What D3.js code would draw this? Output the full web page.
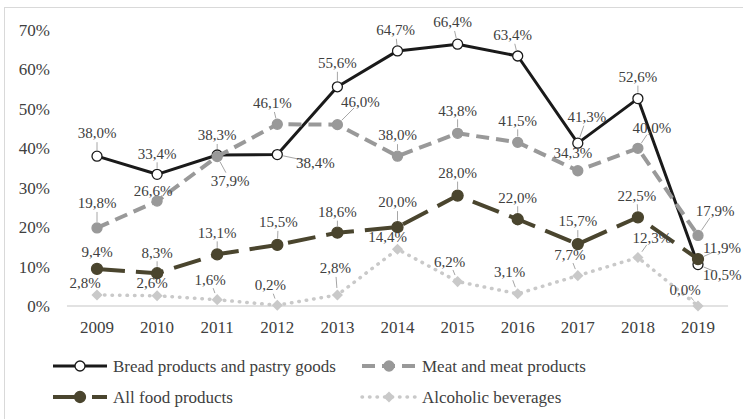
<!DOCTYPE html>
<html>
<head>
<meta charset="utf-8">
<script src="https://cdn.jsdelivr.net/npm/d3@7"></script>
<style>
  body { margin: 0; background: #fff; }
</style>
</head>
<body>
<div id="chart"></div>
<script>
const WIDTH = 743;
const HEIGHT = 419;
const FONT = "'Liberation Serif', 'Times New Roman', serif";

// data
const years = ["2009", "2010", "2011", "2012", "2013", "2014", "2015", "2016", "2017", "2018", "2019"];
const bread = [38.0, 33.4, 38.3, 38.4, 55.6, 64.7, 66.4, 63.4, 41.3, 52.6, 10.5];
const meat = [19.8, 26.6, 37.9, 46.1, 46.0, 38.0, 43.8, 41.5, 34.3, 40.0, 17.9];
const food = [9.4, 8.3, 13.1, 15.5, 18.6, 20.0, 28.0, 22.0, 15.7, 22.5, 11.9];
const alcohol = [2.8, 2.6, 1.6, 0.2, 2.8, 14.4, 6.2, 3.1, 7.7, 12.3, 0.0];
const yTicks = [0, 10, 20, 30, 40, 50, 60, 70];
const seriesNames = ["Bread products and pastry goods", "Meat and meat products", "All food products", "Alcoholic beverages"];

// label offsets (px) from each point, as placed in the original
const breadOff = [[0,-23],[0,-21],[0,-20],[38,8],[0,-24],[-2,-21],[-5,-22],[-5,-21],[9,-26],[0,-22],[24,10]];
const meatOff = [[0,-25],[-4,-10],[13,24],[-5,-21],[23,-23],[0,-21],[0,-23],[0,-22],[-5,-18],[14,-21],[17,-25]];
const foodOff = [[0,-17],[0,-21],[0,-22],[1,-23],[0,-21],[0,-25],[0,-23],[0,-22],[0,-23],[-1,-22],[24,-11]];
const alcOff = [[-12,-12],[-5,-13],[-7,-20],[-7,-20],[-2,-27],[-10,-12],[-8,-20],[-8,-22],[-8,-21],[14,-20],[-13,-16]];

const series = [
    { name: seriesNames[0], values: bread, off: breadOff, color: "#1a1a1a", width: 3, dash: null, marker: "circle", fill: "#fff", stroke: "#1a1a1a", r: 5 },
    { name: seriesNames[1], values: meat, off: meatOff, color: "#999999", width: 4, dash: "13 7", marker: "circle", fill: "#999999", stroke: "#999999", r: 5 },
    { name: seriesNames[2], values: food, off: foodOff, color: "#4a452e", width: 4, dash: "28 11", marker: "circle", fill: "#4a452e", stroke: "#4a452e", r: 5.5 },
    { name: seriesNames[3], values: alcohol, off: alcOff, color: "#c9c9c9", width: 3.5, dash: "0.5 7", marker: "diamond", fill: "#c9c9c9", stroke: "#c9c9c9", r: 6 }
];

const svg = d3.select("#chart")
    .append("svg")
    .attr("width", WIDTH)
    .attr("height", HEIGHT)
    .attr("font-family", FONT);

svg.append("rect")
    .attr("x", 4.5).attr("y", 7.5)
    .attr("width", WIDTH).attr("height", HEIGHT)
    .attr("fill", "none")
    .attr("stroke", "#d9d9d9");

const x = d3.scalePoint()
    .domain(years)
    .range([97, 698]);

const y = d3.scaleLinear()
    .domain([0, 70])
    .range([306, 30]);

// y tick labels
svg.append("g").selectAll("text")
    .data(yTicks)
    .enter().append("text")
    .attr("x", 50)
    .attr("y", d => y(d))
    .attr("dy", "0.35em")
    .attr("text-anchor", "end")
    .attr("font-size", 17)
    .attr("fill", "#404040")
    .text(d => d + "%");

// baseline
svg.append("line")
    .attr("x1", x(years[0]) - x.step() / 2)
    .attr("x2", x(years[years.length - 1]) + x.step() / 2)
    .attr("y1", y(0)).attr("y2", y(0))
    .attr("stroke", "#d9d9d9")
    .attr("stroke-width", 1.3);

// x labels
svg.append("g").selectAll("text")
    .data(years)
    .enter().append("text")
    .attr("x", d => x(d))
    .attr("y", 333)
    .attr("text-anchor", "middle")
    .attr("font-size", 17)
    .attr("fill", "#404040")
    .text(d => d);

const line = d3.line()
    .x((d, i) => x(years[i]))
    .y(d => y(d));

function drawMarker(g, s, cx, cy) {
    if (s.marker === "circle") {
        g.append("circle")
            .attr("cx", cx).attr("cy", cy).attr("r", s.r)
            .attr("fill", s.fill)
            .attr("stroke", s.stroke)
            .attr("stroke-width", 1.3);
    } else {
        g.append("path")
            .attr("d", d3.symbol().type(d3.symbolDiamond2).size(s.r * s.r * 2.2)())
            .attr("transform", `translate(${cx},${cy})`)
            .attr("fill", s.fill);
    }
}

series.forEach(function(s) {
    const g = svg.append("g");
    g.append("path")
        .datum(s.values)
        .attr("d", line)
        .attr("fill", "none")
        .attr("stroke", s.color)
        .attr("stroke-width", s.width)
        .attr("stroke-dasharray", s.dash)
        .attr("stroke-linecap", s.marker === "diamond" ? "round" : "butt")
        .attr("stroke-linejoin", "round");
    s.values.forEach(function(v, i) {
        drawMarker(g, s, x(years[i]), y(v));
    });
});

// data labels with leader lines
const fmt = v => v.toFixed(1).replace(".", ",") + "%";
const labels = svg.append("g");
series.forEach(function(s) {
    s.values.forEach(function(v, i) {
        const px = x(years[i]);
        const py = y(v);
        const [dx, dy] = s.off[i];
        const dist = Math.sqrt(dx * dx + dy * dy);
        if (dist > 19) {
            const ux = dx / dist, uy = dy / dist;
            labels.append("line")
                .attr("x1", px + ux * (s.r + 1))
                .attr("y1", py + uy * (s.r + 1))
                .attr("x2", px + ux * (dist - 9))
                .attr("y2", py + uy * (dist - 9))
                .attr("stroke", "#a6a6a6")
                .attr("stroke-width", 1);
        }
        labels.append("text")
            .attr("x", px + dx)
            .attr("y", py + dy)
            .attr("dy", "0.35em")
            .attr("text-anchor", "middle")
            .attr("font-size", 15)
            .attr("fill", "#404040")
            .text(fmt(v));
    });
});

// legend
const legendPos = [[53, 366], [362, 366], [53, 397], [362, 397]];
series.forEach(function(s, i) {
    const [lx, ly] = legendPos[i];
    const g = svg.append("g");
    g.append("line")
        .attr("x1", lx).attr("x2", lx + 54)
        .attr("y1", ly).attr("y2", ly)
        .attr("stroke", s.color)
        .attr("stroke-width", s.width)
        .attr("stroke-dasharray", s.dash)
        .attr("stroke-linecap", s.marker === "diamond" ? "round" : "butt");
    drawMarker(g, s, lx + 27, ly);
    g.append("text")
        .attr("x", lx + 60)
        .attr("y", ly)
        .attr("dy", "0.35em")
        .attr("font-size", 17)
        .attr("fill", "#404040")
        .text(s.name);
});
</script>
</body>
</html>
